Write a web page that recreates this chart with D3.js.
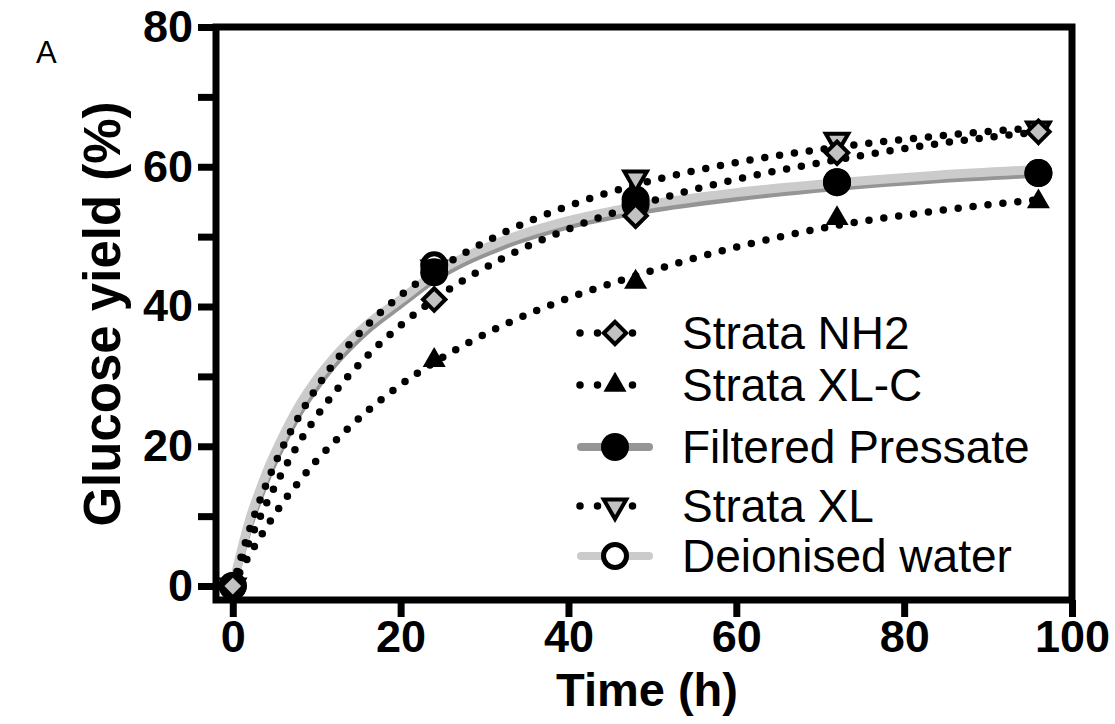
<!DOCTYPE html>
<html>
<head>
<meta charset="utf-8">
<script src="https://cdn.jsdelivr.net/npm/d3@7/dist/d3.min.js"></script>
<style>
  body { margin: 0; background: #fff; }
  svg { display: block; }
  text { font-family: "Liberation Sans", Arial, Helvetica, sans-serif; fill: #000; }
</style>
</head>
<body>
<svg id="chart" width="1115" height="724"></svg>
<script>
// Glucose yield over time, five pressate treatments, measured points + fitted curves

// measured points
const times = [0, 24, 48, 72, 96];
const nh2 = [0, 41, 53, 62, 65];
const xlc = [0, 32.3, 43.5, 52.6, 55];
const pressate = [0, 44.9, 54.6, 57.8, 59.1];
const xl = [0, 45.5, 58.4, 63.8, 65.4];
const water = [0, 45.9, 55.3, 57.8, 59.1];

// fitted curves
const fitT = [0, 1, 2, 3, 4, 6, 8, 10, 12, 16, 20, 24, 32, 40, 48, 60, 72, 84, 96];
const fitNh2 = [0, 3.3, 6.4, 9.2, 11.8, 16.5, 20.7, 24.3, 27.5, 32.9, 37.3, 41.0, 46.8, 51.1, 54.4, 58.2, 61.0, 63.3, 65.0];
const fitXlc = [0, 2.3, 4.5, 6.5, 8.4, 12.0, 15.1, 18.0, 20.5, 25.0, 28.8, 32.0, 37.2, 41.2, 44.4, 48.5, 51.6, 53.7, 55.3];
const fitPressate = [0, 4.6, 8.8, 12.2, 15.3, 20.5, 25.0, 28.6, 31.7, 36.6, 40.3, 43.9, 48.6, 51.6, 53.6, 55.6, 57.1, 58.2, 59.0];
const fitXl = [0, 4.2, 8.1, 11.5, 14.6, 20.0, 24.5, 28.4, 31.8, 37.3, 41.6, 45.0, 50.4, 54.4, 57.4, 60.6, 62.8, 64.4, 65.6];
const fitWater = [0, 5.0, 9.5, 13.0, 16.2, 21.5, 26.0, 29.6, 32.6, 37.4, 41.0, 44.6, 49.3, 52.3, 54.3, 56.3, 57.7, 58.8, 59.6];

const legendLabels = ['Strata NH2', 'Strata XL-C', 'Filtered Pressate', 'Strata XL', 'Deionised water'];
const xTicks = [0, 20, 40, 60, 80, 100];
const yTicks = [0, 20, 40, 60, 80];
const yMinor = [10, 30, 50, 70];

const svg = d3.select('#chart');

const x = d3.scaleLinear().domain([-2, 100]).range([216, 1072]);
const y = d3.scaleLinear().domain([-2, 80]).range([600, 27]);

const AXW = 7;
const LIGHT = '#cbcbcb';
const DARK = '#959595';
const FILLGRAY = '#c2c2c2';

// series styles (order = legend order)
const series = [
  { name: legendLabels[0], pts: nh2, fit: fitNh2, kind: 'dot', marker: 'diamond' },
  { name: legendLabels[1], pts: xlc, fit: fitXlc, kind: 'dot', marker: 'tri' },
  { name: legendLabels[2], pts: pressate, fit: fitPressate, kind: 'solid', color: DARK, width: 8, marker: 'disc' },
  { name: legendLabels[3], pts: xl, fit: fitXl, kind: 'dot', marker: 'invtri' },
  { name: legendLabels[4], pts: water, fit: fitWater, kind: 'solid', color: LIGHT, width: 9, marker: 'ring' }
];

function drawMarker(sel, type) {
  if (type === 'diamond') {
    sel.append('path')
      .attr('d', d3.symbol(d3.symbolSquare, 250)())
      .attr('transform', 'rotate(45)')
      .attr('fill', FILLGRAY).attr('stroke', '#000').attr('stroke-width', 4);
  } else if (type === 'tri') {
    sel.append('path')
      .attr('d', d3.symbol(d3.symbolTriangle, 230)())
      .attr('fill', '#000');
  } else if (type === 'invtri') {
    sel.append('path')
      .attr('d', d3.symbol(d3.symbolTriangle, 220)())
      .attr('transform', 'rotate(180)')
      .attr('fill', FILLGRAY).attr('stroke', '#000').attr('stroke-width', 4);
  } else if (type === 'disc') {
    sel.append('circle').attr('r', 14).attr('fill', '#000');
  } else if (type === 'ring') {
    sel.append('circle').attr('r', 11.5)
      .attr('fill', '#fff').attr('stroke', '#000').attr('stroke-width', 5);
  }
}

// ===== fitted curves =====
const line = d3.line()
  .x(d => x(d[0]))
  .y(d => y(d[1]))
  .curve(d3.curveMonotoneX);

const curves = svg.append('g');

// grey solid fits first (pressate under water), dotted on top
series.filter(s => s.kind === 'solid').forEach(s => {
  curves.append('path')
    .attr('d', line(fitT.map((t, i) => [t, s.fit[i]])))
    .attr('fill', 'none')
    .attr('stroke', s.color)
    .attr('stroke-width', s.width)
    .attr('stroke-linecap', 'round');
});

series.filter(s => s.kind === 'dot').forEach(s => {
  curves.append('path')
    .attr('d', line(fitT.map((t, i) => [t, s.fit[i]])))
    .attr('fill', 'none')
    .attr('stroke', '#000')
    .attr('stroke-width', 7.5)
    .attr('stroke-linecap', 'round')
    .attr('stroke-dasharray', '0 15');
});

// ===== markers =====
// order chosen so the filled disc sits over the ring, diamonds on top
const markerOrder = [4, 3, 2, 1, 0];
markerOrder.forEach(k => {
  const s = series[k];
  times.forEach((t, i) => {
    const m = svg.append('g').attr('transform', `translate(${x(t)},${y(s.pts[i])})`);
    drawMarker(m, s.marker);
  });
});

// ===== frame and axes =====
svg.append('rect')
  .attr('x', x(-2)).attr('y', y(80))
  .attr('width', x(100) - x(-2)).attr('height', y(-2) - y(80))
  .attr('fill', 'none').attr('stroke', '#000').attr('stroke-width', AXW);

const yAxis = svg.append('g')
  .attr('transform', `translate(${x(-2)},0)`)
  .call(d3.axisLeft(y).tickValues(yTicks).tickSize(18).tickPadding(5));

const yMinorAxis = svg.append('g')
  .attr('transform', `translate(${x(-2)},0)`)
  .call(d3.axisLeft(y).tickValues(yMinor).tickSize(18).tickFormat(''));

const xAxis = svg.append('g')
  .attr('transform', `translate(0,${y(-2)})`)
  .call(d3.axisBottom(x).tickValues(xTicks).tickSize(17).tickPadding(3));

[yAxis, yMinorAxis, xAxis].forEach(a => {
  a.select('.domain').remove();
  a.selectAll('.tick line').attr('stroke', '#000').attr('stroke-width', AXW);
  a.selectAll('.tick text')
    .attr('font-size', 45)
    .attr('font-weight', 'bold')
    .attr('font-family', '"Liberation Sans", Arial, sans-serif')
    .attr('fill', '#000');
});

// axis titles
svg.append('text')
  .attr('x', 647).attr('y', 706)
  .attr('text-anchor', 'middle')
  .attr('font-size', 47).attr('font-weight', 'bold')
  .text('Time (h)');

svg.append('text')
  .attr('transform', 'translate(120,314) rotate(-90)')
  .attr('text-anchor', 'middle')
  .attr('font-size', 51).attr('font-weight', 'bold')
  .text('Glucose yield (%)');

svg.append('text')
  .attr('x', 36).attr('y', 63)
  .attr('font-size', 31)
  .text('A');

// ===== legend =====
const rowY = [333, 385, 447, 506, 556];
const legend = svg.append('g');

series.forEach((s, i) => {
  const row = legend.append('g').attr('transform', `translate(0,${rowY[i]})`);
  if (s.kind === 'dot') {
    row.append('line')
      .attr('x1', 580).attr('x2', 633).attr('y1', 0).attr('y2', 0)
      .attr('stroke', '#000').attr('stroke-width', 7.5)
      .attr('stroke-linecap', 'round').attr('stroke-dasharray', '0 17.5');
  } else {
    row.append('line')
      .attr('x1', 581).attr('x2', 649).attr('y1', 0).attr('y2', 0)
      .attr('stroke', s.color).attr('stroke-width', 8)
      .attr('stroke-linecap', 'round');
  }
  drawMarker(row.append('g').attr('transform', 'translate(615,0)'), s.marker);
  row.append('text')
    .attr('x', 682).attr('y', 16)
    .attr('font-size', 46)
    .text(s.name);
});
</script>
</body>
</html>
